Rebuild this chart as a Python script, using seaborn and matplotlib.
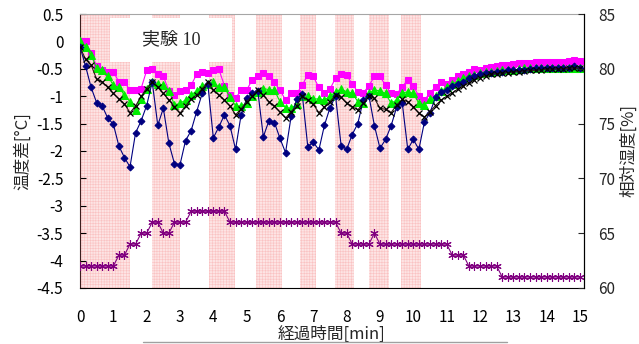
import matplotlib
matplotlib.use("Agg")
import matplotlib.pyplot as plt
from matplotlib.lines import Line2D
from matplotlib.patches import Rectangle
from matplotlib.ticker import FuncFormatter
import numpy as np
import seaborn as sns

# sampling every 10 s, time in minutes
time_min = np.arange(91) / 6

# temperature differences [°C]
temp_magenta = [0.00, 0.00, -0.21, -0.45, -0.52, -0.55, -0.55, -0.74, -0.74, -0.89,
                -0.89, -0.86, -0.53, -0.51, -0.60, -0.64, -0.90, -0.98, -0.90, -0.88,
                -0.80, -0.60, -0.55, -0.57, -0.52, -0.51, -0.81, -0.98, -1.04, -0.89,
                -0.89, -0.70, -0.64, -0.57, -0.63, -0.75, -0.89, -1.07, -0.95, -0.95,
                -0.80, -0.61, -0.64, -0.84, -0.94, -0.87, -0.67, -0.60, -0.61, -0.78,
                -0.92, -0.94, -0.81, -0.64, -0.64, -0.80, -0.95, -0.96, -0.83, -0.70,
                -0.81, -1.00, -1.07, -0.94, -0.83, -0.75, -0.78, -0.70, -0.64, -0.59,
                -0.55, -0.51, -0.52, -0.49, -0.46, -0.45, -0.43, -0.43, -0.42, -0.40,
                -0.40, -0.39, -0.38, -0.37, -0.37, -0.38, -0.38, -0.37, -0.35, -0.34,
                -0.36]
temp_green = [0.00, -0.10, -0.25, -0.49, -0.52, -0.63, -0.80, -0.84, -0.98, -1.10,
              -1.25, -1.05, -0.86, -0.75, -0.78, -0.80, -0.90, -1.16, -1.13, -1.07,
              -0.98, -0.90, -0.82, -0.77, -0.75, -0.84, -0.84, -1.02, -1.17, -1.18,
              -1.13, -1.00, -0.93, -0.86, -0.88, -0.89, -1.10, -1.21, -1.22, -1.15,
              -1.00, -1.00, -1.05, -1.05, -1.07, -1.00, -0.92, -0.87, -0.92, -0.94,
              -1.10, -1.12, -0.95, -0.89, -0.90, -0.95, -1.13, -1.07, -0.94, -0.92,
              -0.95, -1.13, -1.16, -1.06, -1.00, -0.90, -0.84, -0.78, -0.73, -0.67,
              -0.63, -0.62, -0.58, -0.55, -0.55, -0.54, -0.52, -0.52, -0.52, -0.51,
              -0.49, -0.49, -0.49, -0.49, -0.49, -0.49, -0.48, -0.48, -0.48, -0.48,
              -0.49]
temp_black = [-0.10, -0.33, -0.43, -0.69, -0.74, -0.84, -0.95, -1.05, -1.14, -1.30,
              -1.18, -1.00, -0.86, -0.74, -0.84, -0.95, -1.07, -1.19, -1.31, -1.18,
              -1.05, -0.98, -0.86, -0.75, -0.88, -0.98, -1.07, -1.18, -1.34, -1.23,
              -1.10, -1.00, -0.89, -0.98, -1.10, -1.18, -1.29, -1.40, -1.28, -1.18,
              -1.00, -1.07, -1.15, -1.30, -1.19, -1.10, -0.98, -1.02, -1.13, -1.19,
              -1.25, -1.13, -1.00, -1.04, -1.22, -1.24, -1.30, -1.16, -1.06, -1.10,
              -1.19, -1.31, -1.38, -1.28, -1.17, -1.07, -1.00, -0.94, -0.87, -0.81,
              -0.76, -0.70, -0.66, -0.63, -0.60, -0.59, -0.58, -0.57, -0.56, -0.55,
              -0.54, -0.53, -0.53, -0.52, -0.51, -0.51, -0.50, -0.50, -0.49, -0.49,
              -0.49]
temp_navy = [-0.10, -0.45, -0.84, -1.12, -1.18, -1.40, -1.51, -1.91, -2.12, -2.29,
             -1.67, -1.45, -1.17, -0.74, -1.53, -1.22, -1.86, -2.23, -2.25, -1.81,
             -1.63, -1.28, -0.95, -0.77, -1.76, -1.56, -1.34, -1.54, -1.97, -1.34,
             -1.04, -0.95, -0.90, -1.74, -1.45, -1.48, -1.77, -2.03, -1.37, -1.06,
             -0.96, -1.92, -1.84, -1.98, -1.53, -1.21, -1.00, -1.90, -1.97, -1.70,
             -1.50, -1.07, -0.99, -1.54, -1.95, -1.79, -1.54, -1.20, -1.12, -1.97,
             -1.79, -1.97, -1.47, -1.30, -1.02, -0.92, -0.88, -0.82, -0.77, -0.74,
             -0.66, -0.63, -0.59, -0.58, -0.57, -0.55, -0.55, -0.53, -0.52, -0.52,
             -0.52, -0.51, -0.49, -0.49, -0.49, -0.49, -0.49, -0.48, -0.48, -0.44,
             -0.48]

# relative humidity [%] (right axis)
humidity = ([62] * 7 + [63] * 2 + [64] * 2 + [65] * 2 + [66] * 2 + [65] * 2
            + [66] * 3 + [67] * 7 + [66] * 20 + [65] * 2 + [64] * 4 + [65]
            + [64] * 13 + [63] * 3 + [62] * 6 + [61] * 15)

# shaded periods [min]
span_start = [0.0, 2.15, 3.88, 5.28, 6.60, 7.65, 8.67, 9.63]
span_end = [1.5, 3.0, 4.65, 6.05, 7.07, 8.23, 9.27, 10.22]

sns.set_style("white")
plt.rcParams['font.family'] = ['Noto Sans CJK JP', 'DejaVu Sans']
plt.rcParams['axes.unicode_minus'] = False
plt.rcParams['hatch.linewidth'] = 0.4

fig = plt.figure(figsize=(6.39, 3.44), dpi=100)
ax = fig.add_axes([0.1252, 0.1628, 0.7887, 0.7965])
ax2 = ax.twinx()

for s, e in zip(span_start, span_end):
    ax.axvspan(s, e, facecolor='#fde4e4', edgecolor='#fac2c2', hatch='++++++',
               linewidth=0, zorder=0)

sns.lineplot(x=time_min, y=temp_magenta, ax=ax, color='#ff00ff', marker='s',
             markersize=4.5, markeredgecolor='#ff00ff', linewidth=0.8, zorder=3)
sns.lineplot(x=time_min, y=temp_green, ax=ax, color='#00ee00', marker='^',
             markersize=6, markeredgecolor='#00ee00', linewidth=0.8, zorder=4)
sns.lineplot(x=time_min, y=temp_navy, ax=ax, color='#000080', marker='D',
             markersize=3.5, markeredgecolor='#000080', linewidth=0.8, zorder=5)
sns.lineplot(x=time_min, y=temp_black, ax=ax, color='#301818', marker='x',
             markersize=5, markeredgecolor='black', markeredgewidth=0.9,
             linewidth=0.8, zorder=6)
sns.lineplot(x=time_min, y=humidity, ax=ax2, color='#800080', marker=(6, 2, 0),
             markersize=6, markeredgecolor='#800080', markeredgewidth=0.8,
             linewidth=0.8)

ax.set_xlim(0, 15.12)
ax.set_xticks(range(16))
ax.set_ylim(-4.5, 0.5)
ax.set_yticks(np.arange(-4.5, 0.51, 0.5))
ax.yaxis.set_major_formatter(FuncFormatter(lambda v, _: f"{round(v, 1) + 0:g}"))
ax2.set_ylim(60, 85)
ax2.set_yticks(range(60, 86, 5))

ax.tick_params(axis='both', direction='in', length=4, labelsize=11, colors='black')
ax.tick_params(axis='x', pad=15)
ax.tick_params(axis='y', pad=12)
ax2.tick_params(axis='y', direction='in', length=4, labelsize=11, pad=10)

ax.set_xlabel('経過時間[min]', fontsize=12, labelpad=0)
ax.set_ylabel('温度差[°C]', fontsize=12, labelpad=4)
ax2.set_ylabel('相対湿度[%]', fontsize=12, labelpad=4)

for side in ['left', 'bottom', 'right']:
    ax.spines[side].set_color('black')
ax.spines['left'].set_color('#3c1e1e')
ax.spines['top'].set_color('#a6a6a6')
for side in ['left', 'top', 'bottom']:
    ax2.spines[side].set_visible(False)
ax2.spines['right'].set_color('black')

# label box
ax.add_patch(Rectangle((0.06, 0.825), 0.242, 0.16, transform=ax.transAxes,
                       facecolor='white', edgecolor='none', zorder=7))
ax.text(0.181, 0.905, '実験 10', transform=ax.transAxes, ha='center', va='center',
        fontsize=13, family=['Liberation Serif', 'Noto Sans CJK JP'], zorder=8)

fig.add_artist(Line2D([0.224, 0.793], [0.006, 0.006], color='#a0a0a0', lw=1))

fig.savefig('out.png', dpi=100)
